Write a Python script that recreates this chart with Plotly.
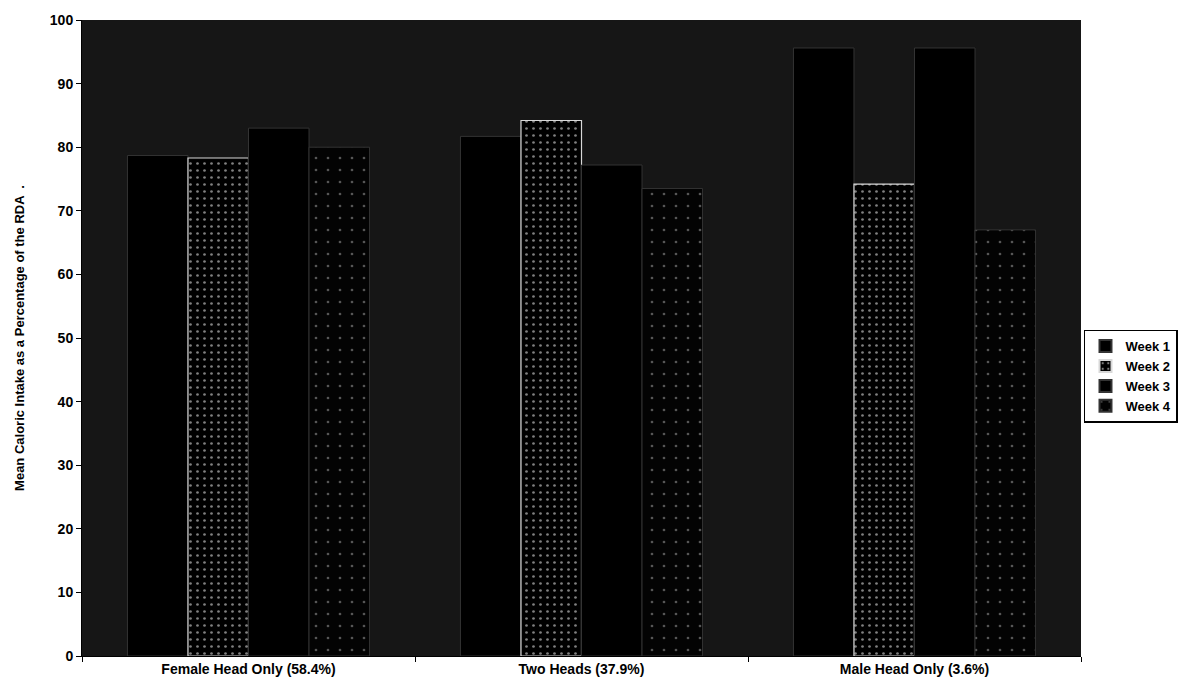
import plotly.graph_objects as go

categories = ["Female Head Only (58.4%)", "Two Heads (37.9%)", "Male Head Only (3.6%)"]
week1 = [78.7, 81.7, 95.6]
week2 = [78.3, 84.2, 74.2]
week3 = [83.0, 77.2, 95.6]
week4 = [80.0, 73.5, 67.0]
series_names = ["Week 1", "Week 2", "Week 3", "Week 4"]
y_ticks = [0, 10, 20, 30, 40, 50, 60, 70, 80, 90, 100]

FONT = "Arial, Liberation Sans, sans-serif"

styles = [
    dict(color="#000000", line=dict(color="#333333", width=1)),
    dict(color="#000000", line=dict(color="#d8d8d8", width=1.2),
         pattern=dict(shape=".", fgcolor="#ffffff", bgcolor="#000000", size=7, solidity=0.12)),
    dict(color="#000000", line=dict(color="#333333", width=1)),
    dict(color="#030303", line=dict(color="#333333", width=1),
         pattern=dict(shape=".", fgcolor="#aaaaaa", bgcolor="#030303", size=12, solidity=0.04)),
]

fig = go.Figure()
for name, vals, st in zip(series_names, [week1, week2, week3, week4], styles):
    fig.add_trace(go.Bar(x=categories, y=vals, name=name, marker=st))

fig.update_layout(
    width=1190, height=688,
    margin=dict(l=82, r=106, t=20, b=32),
    paper_bgcolor="white",
    plot_bgcolor="#161616",
    barmode="group",
    bargap=0.273,
    bargroupgap=0,
    font=dict(family=FONT, color="black", size=12, weight="bold"),
    showlegend=True,
    legend=dict(
        x=1.003, xanchor="left", y=0.44, yanchor="middle",
        bgcolor="white", bordercolor="black", borderwidth=1.5,
        font=dict(family=FONT, size=13, color="black", weight="bold"),
        itemsizing="constant", tracegroupgap=0, itemwidth=30,
    ),
    xaxis=dict(
        showline=True, linecolor="black", linewidth=1,
        ticks="outside", tickson="boundaries", ticklen=5, tickcolor="black",
        tickfont=dict(family=FONT, size=14, weight="bold"),
        showgrid=False,
    ),
    yaxis=dict(
        range=[0, 100], tickvals=y_ticks,
        showline=True, linecolor="black", linewidth=1,
        ticks="outside", ticklen=5, tickcolor="black",
        tickfont=dict(family=FONT, size=14, weight="bold"),
        showgrid=False, zeroline=False,
        title=dict(text="Mean Caloric Intake as a Percentage of the RDA  .",
                   font=dict(family=FONT, size=13, weight="bold"), standoff=22),
    ),
)

fig.write_html("out.html")
